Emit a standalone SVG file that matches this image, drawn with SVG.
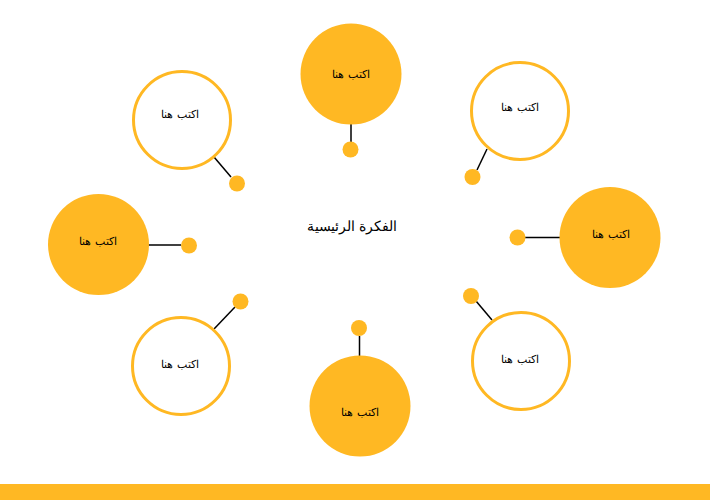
<svg xmlns="http://www.w3.org/2000/svg" width="710" height="500" viewBox="0 0 710 500">
<style>
.f{fill:#FFB823}
.o{fill:#FFFFFF;stroke:#FFB823;stroke-width:3}
.d{fill:#FFB823}
.c line{stroke:#000000;stroke-width:1.5}
.t{font-family:"Liberation Sans",Arial,sans-serif;font-size:11px;fill:#000000;text-anchor:middle;dominant-baseline:central}
.m{font-family:"Liberation Sans",Arial,sans-serif;font-size:14px;fill:#000000;text-anchor:middle;dominant-baseline:central}
</style>
<rect x="0" y="0" width="710" height="500" fill="#FFFFFF"/>
<rect x="0" y="484" width="710" height="16" fill="#FFB823"/>
<g id="connectors" class="c">
<line x1="351" y1="124" x2="351" y2="142"/>
<line x1="214" y1="157" x2="231" y2="177"/>
<line x1="487" y1="149" x2="477" y2="170"/>
<line x1="560" y1="237.5" x2="525" y2="237.5"/>
<line x1="148" y1="245" x2="181" y2="245"/>
<line x1="214" y1="329" x2="235" y2="307"/>
<line x1="359.5" y1="356" x2="359.5" y2="336"/>
<line x1="492" y1="320" x2="476" y2="301"/>
</g>
<g id="main"><text class="m" x="352" y="226">الفكرة الرئيسية</text></g>
<g id="n-top"><circle class="f" cx="351" cy="74" r="50.5"/><circle class="d" cx="350.5" cy="149.5" r="8"/><text class="t" x="351" y="74">اكتب هنا</text></g>
<g id="n-topleft"><circle class="o" cx="182" cy="120" r="48.5"/><circle class="d" cx="237" cy="183.5" r="8"/><text class="t" x="180" y="114">اكتب هنا</text></g>
<g id="n-topright"><circle class="o" cx="520" cy="111" r="48.5"/><circle class="d" cx="472.5" cy="177" r="8"/><text class="t" x="520" y="107">اكتب هنا</text></g>
<g id="n-right"><circle class="f" cx="610" cy="237.5" r="50.5"/><circle class="d" cx="517.5" cy="237.5" r="8"/><text class="t" x="611" y="234">اكتب هنا</text></g>
<g id="n-left"><circle class="f" cx="98.5" cy="244.5" r="50.5"/><circle class="d" cx="189" cy="245.5" r="8"/><text class="t" x="98" y="241">اكتب هنا</text></g>
<g id="n-bottomleft"><circle class="o" cx="181" cy="366" r="48.5"/><circle class="d" cx="240.5" cy="301.5" r="8"/><text class="t" x="180" y="364">اكتب هنا</text></g>
<g id="n-bottom"><circle class="f" cx="360" cy="406" r="50.5"/><circle class="d" cx="359" cy="328" r="8"/><text class="t" x="360" y="412">اكتب هنا</text></g>
<g id="n-bottomright"><circle class="o" cx="521" cy="361" r="48.5"/><circle class="d" cx="471" cy="296" r="8"/><text class="t" x="520" y="359">اكتب هنا</text></g>
</svg>
